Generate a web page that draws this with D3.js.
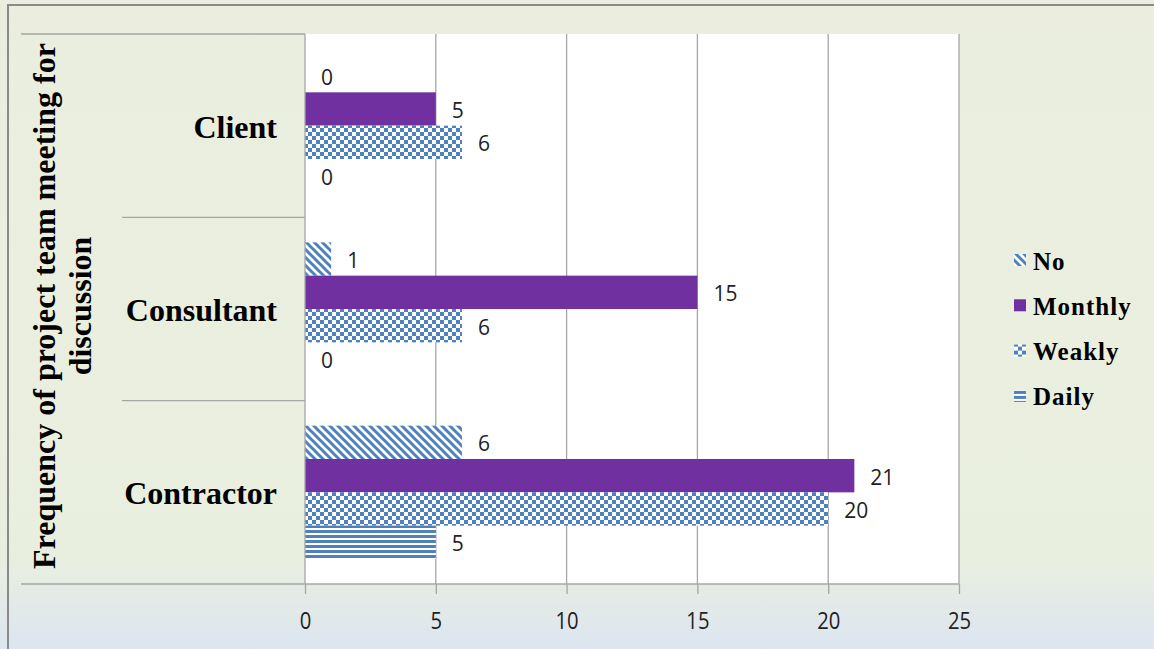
<!DOCTYPE html>
<html><head><meta charset="utf-8">
<script src="https://cdn.jsdelivr.net/npm/d3@7"></script>
<style>html,body{margin:0;padding:0;overflow:hidden;background:#ebefdf}</style>
</head><body>
<svg id="chart" width="1154" height="649"></svg>
<script>
const categories = ["Client", "Consultant", "Contractor"];
const seriesNames = ["No", "Monthly", "Weakly", "Daily"];
const noValues      = [0, 1, 6];
const monthlyValues = [5, 15, 21];
const weaklyValues  = [6, 6, 20];
const dailyValues   = [0, 0, 5];
const xTicks = [0, 5, 10, 15, 20, 25];
const axisTitle = ["Frequency of project team meeting for", "discussion"];

const seriesValues = [noValues, monthlyValues, weaklyValues, dailyValues];
const blue = "#4f81bd", purple = "#7030a0", grid = "#a6a6a6";

const svg = d3.select("#chart");
const defs = svg.append("defs");

const bg = defs.append("linearGradient").attr("id","bg").attr("x1",0).attr("y1",0).attr("x2",0).attr("y2",1);
bg.append("stop").attr("offset","0").attr("stop-color","#ebeedf");
bg.append("stop").attr("offset","0.86").attr("stop-color","#e9efdf");
bg.append("stop").attr("offset","1").attr("stop-color","#dce5f1");

// patterns
const pDiag = defs.append("pattern").attr("id","pNo").attr("patternUnits","userSpaceOnUse").attr("width",8).attr("height",8);
pDiag.append("rect").attr("width",8).attr("height",8).attr("fill","#fff");
pDiag.append("path").attr("d","M-2,-2L10,10M-2,6L2,10M6,-2L10,2").attr("stroke",blue).attr("stroke-width",3);

const pChk = defs.append("pattern").attr("id","pWeakly").attr("patternUnits","userSpaceOnUse").attr("width",8).attr("height",8);
pChk.append("rect").attr("width",8).attr("height",8).attr("fill","#fff");
pChk.append("rect").attr("width",4).attr("height",4).attr("fill",blue);
pChk.append("rect").attr("x",4).attr("y",4).attr("width",4).attr("height",4).attr("fill",blue);

const pHor = defs.append("pattern").attr("id","pDaily").attr("patternUnits","userSpaceOnUse").attr("width",8).attr("height",5);
pHor.append("rect").attr("width",8).attr("height",5).attr("fill","#fff");
pHor.append("rect").attr("width",8).attr("height",3).attr("fill",blue);

const fills = ["url(#pNo)", purple, "url(#pWeakly)", "url(#pDaily)"];

svg.append("rect").attr("width",1154).attr("height",649).attr("fill","url(#bg)");
// outer border
svg.append("path").attr("d","M8,660L8,5L1160,5").attr("fill","none").attr("stroke","#8a8a8a").attr("stroke-width",2);

const pLeft = 305, pRight = 959, pTop = 34, pBottom = 584;
const x = d3.scaleLinear().domain([0,25]).range([pLeft,pRight]);
const y = d3.scaleBand().domain(categories).range([pTop,pBottom]);
const yInner = d3.scaleBand().domain(seriesNames).range([0,y.bandwidth()]).paddingInner(0).paddingOuter(0.75);

svg.append("rect").attr("x",pLeft).attr("y",pTop).attr("width",pRight-pLeft).attr("height",pBottom-pTop).attr("fill","#fff");

// gridlines
svg.append("g").selectAll("line").data(xTicks.slice(1)).join("line")
  .attr("x1",d=>x(d)).attr("x2",d=>x(d)).attr("y1",pTop).attr("y2",pBottom)
  .attr("stroke",grid).attr("stroke-width",1.3);

// x axis
const xAxis = d3.axisBottom(x).tickValues(xTicks).tickSize(10).tickPadding(0).tickFormat(d3.format("d"));
const gx = svg.append("g").attr("transform",`translate(0,${pBottom})`).call(xAxis);
gx.select(".domain").remove();
gx.selectAll(".tick line").attr("stroke",grid).attr("stroke-width",1.3);
gx.selectAll(".tick text").remove();
gx.selectAll(".tick").append("text")
  .attr("transform","translate(0,36) scale(0.88,1)")
  .attr("text-anchor","middle").attr("dominant-baseline","central")
  .attr("fill","#222").style("font-family","'Open Sans', sans-serif").style("font-size","23px")
  .text(d=>d);

// bars
const rows = [];
categories.forEach((c,ci)=>seriesNames.forEach((s,si)=>rows.push({c, s, si, v: seriesValues[si][ci]})));
const gBars = svg.append("g");
gBars.selectAll("rect").data(rows).join("rect")
  .attr("x",x(0)).attr("y",d=>y(d.c)+yInner(d.s))
  .attr("width",d=>x(d.v)-x(0)).attr("height",yInner.bandwidth())
  .attr("fill",d=>fills[d.si]);

// data labels
gBars.selectAll("text").data(rows).join("text")
  .attr("x",d=>x(d.v)+16).attr("y",d=>y(d.c)+yInner(d.s)+yInner.bandwidth()/2+1)
  .attr("dominant-baseline","central").attr("fill","#222")
  .style("font-family","'Open Sans', sans-serif").style("font-size","21px")
  .text(d=>d.v);

// category axis lines
svg.append("line").attr("x1",pLeft).attr("x2",pLeft).attr("y1",pTop).attr("y2",pBottom).attr("stroke",grid).attr("stroke-width",1.3);
svg.append("line").attr("x1",21).attr("x2",pLeft).attr("y1",pTop).attr("y2",pTop).attr("stroke",grid).attr("stroke-width",1.3);
svg.append("line").attr("x1",21).attr("x2",pRight).attr("y1",pBottom).attr("y2",pBottom).attr("stroke",grid).attr("stroke-width",1.3);
svg.append("g").selectAll("line").data(categories.slice(1)).join("line")
  .attr("x1",122).attr("x2",pLeft).attr("y1",d=>y(d)).attr("y2",d=>y(d))
  .attr("stroke",grid).attr("stroke-width",1.3);

// category labels
svg.append("g").selectAll("text").data(categories).join("text")
  .attr("x",277).attr("y",d=>y(d)+y.bandwidth()/2+1)
  .attr("text-anchor","end").attr("dominant-baseline","central")
  .style("font-family","'Liberation Serif', 'Times New Roman', serif").style("font-weight","bold").style("font-size","32px")
  .attr("fill","#000").text(d=>d);

// axis title
svg.append("g").selectAll("text").data(axisTitle).join("text")
  .attr("transform",(d,i)=>`translate(${[44,80][i]},306) rotate(-90)`)
  .attr("text-anchor","middle").attr("dominant-baseline","central")
  .style("font-family","'Liberation Serif', 'Times New Roman', serif").style("font-weight","bold").style("font-size","32px")
  .attr("fill","#000").text(d=>d);

// legend
const lg = svg.append("g").selectAll("g").data(seriesNames).join("g")
  .attr("transform",(d,i)=>`translate(1014,${260+i*45.3})`);
lg.append("rect").attr("x",0).attr("y",-6).attr("width",12).attr("height",12).attr("fill",(d,i)=>fills[i]);
lg.append("text").attr("x",19).attr("y",1).attr("dominant-baseline","central")
  .style("font-family","'Liberation Serif', 'Times New Roman', serif").style("font-weight","bold").style("font-size","25px")
  .style("letter-spacing","1px")
  .attr("fill","#000").text(d=>d);
</script>
</body></html>
